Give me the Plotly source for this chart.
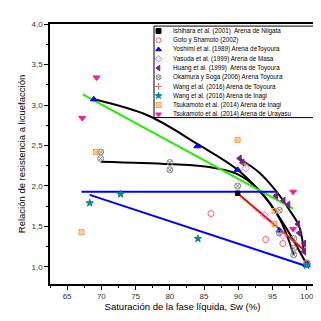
import plotly.graph_objects as go

# ---------------- data ----------------
names = [
    "Ishihara et al. (2001)  Arena de Niigata",
    "Goto y Shamoto (2002)",
    "Yoshimi et al. (1989) Arena deToyoura",
    "Yasuda et al. (1999) Arena de Masa",
    "Huang et al. (1999)  Arena de Toyoura",
    "Okamura y Soga (2006) Arena Toyoura",
    "Wang et al. (2016) Arena de Toyoura",
    "Wang et al. (2016) Arena de Inagi",
    "Tsukamoto et al. (2014) Arena de Inagi",
    "Tsukamoto et al. (2014) Arena de Urayasu",
]

ishihara_x = [89.9, 100.0]
ishihara_y = [1.91, 1.05]
goto_x = [86.0, 94.0, 96.5, 100.0]
goto_y = [1.66, 1.34, 1.29, 1.05]
yoshimi_x = [68.9, 84.0, 89.9, 96.0, 100.0]
yoshimi_y = [3.07, 2.49, 2.20, 1.45, 1.02]
yasuda_x = [91.1, 93.8, 96.5, 100.0]
yasuda_y = [2.22, 1.64, 1.39, 1.04]
huang_x = [90.2, 90.6, 95.5, 96.6, 97.3, 98.7, 98.9, 99.6, 99.6]
huang_y = [2.34, 2.29, 1.88, 1.82, 1.77, 1.53, 1.42, 1.29, 1.19]
okamura_x = [69.9, 69.9, 80.0, 80.0, 89.9, 96.0, 96.0, 98.1, 98.1, 98.1]
okamura_y = [2.42, 2.34, 2.29, 2.20, 2.00, 1.70, 1.42, 1.35, 1.23, 1.15]
wang_t_x = [91.0, 100.0]
wang_t_y = [2.27, 1.04]
wang_i_x = [68.3, 72.8, 84.1, 100.0]
wang_i_y = [1.79, 1.90, 1.35, 1.02]
tsuk_i_x = [67.1, 69.2, 89.9, 95.3, 95.3]
tsuk_i_y = [1.43, 2.42, 2.57, 1.69, 1.53]
tsuk_u_x = [67.2, 69.3, 98.0, 98.0]
tsuk_u_y = [2.84, 3.34, 1.93, 1.47]

# fitted trend lines (read points)
fitA_x = [68.9, 76.8, 84.0, 89.9, 94.0, 97.0, 100.0]
fitA_y = [3.07, 2.87, 2.52, 2.20, 1.85, 1.48, 1.03]
fitO_x = [69.9, 80.0, 86.0, 89.8, 93.0, 96.0, 98.1]
fitO_y = [2.30, 2.27, 2.23, 2.15, 1.95, 1.60, 1.15]
fitH_x = [90.3, 93.0, 95.5, 97.5, 98.9, 99.6]
fitH_y = [2.33, 2.17, 1.94, 1.70, 1.50, 1.17]
green_x = [67.3, 98.0]
green_y = [3.13, 1.72]
red_x = [89.9, 99.6]
red_y = [1.91, 1.21]
blue_h_x = [67.1, 95.5]
blue_h_y = [1.93, 1.93]
blue_s_x = [68.3, 100.0]
blue_s_y = [1.89, 1.01]

x_ticks = [65, 70, 75, 80, 85, 90, 95, 100]
y_ticks = [1.0, 1.5, 2.0, 2.5, 3.0, 3.5, 4.0]

x_title = "Saturación de la fase líquida, Sw (%)"
y_title = "Relación de resistencia a licuefacción"

# ---------------- styles ----------------
series = [
    (ishihara_x, ishihara_y, "square", "#000000", 4.5),
    (goto_x, goto_y, "circle-open", "#FF5A5A", 6),
    (yoshimi_x, yoshimi_y, "triangle-up", "#0000FF", 6),
    (yasuda_x, yasuda_y, "diamond-open", "#EE66EE", 6),
    (huang_x, huang_y, "triangle-left", "#7A1C8C", 6),
    (okamura_x, okamura_y, "circle-x-open", "#808080", 6),
    (wang_t_x, wang_t_y, "cross-thin-open", "#D07A7A", 5),
    (wang_i_x, wang_i_y, "star", "#008B8B", 5.5),
    (tsuk_i_x, tsuk_i_y, "square-x-open", "#FF9A40", 5),
    (tsuk_u_x, tsuk_u_y, "triangle-down", "#FF1C8E", 6),
]

fig = go.Figure()

lines = [
    (fitA_x, fitA_y, "#000000", "spline"),
    (fitO_x, fitO_y, "#000000", "spline"),
    (fitH_x, fitH_y, "#000000", "spline"),
    (green_x, green_y, "#22EE00", "linear"),
    (red_x, red_y, "#FF0000", "linear"),
    (blue_h_x, blue_h_y, "#0000FF", "linear"),
    (blue_s_x, blue_s_y, "#0000FF", "linear"),
]
for lx, ly, col, shp in lines:
    fig.add_trace(go.Scatter(x=lx, y=ly, mode="lines", showlegend=False,
                             line=dict(color=col, width=2, shape=shp, smoothing=1.0),
                             hoverinfo="skip"))

for (sx, sy, sym, col, sz), nm in zip(series, names):
    fig.add_trace(go.Scatter(x=sx, y=sy, mode="markers", name=nm, showlegend=False,
                             marker=dict(symbol=sym, color=col, size=sz,
                                         line=dict(color=col, width=1))))

# ---------------- manual legend (inset axes) ----------------
leg_idx = list(range(len(names)))
fig.add_trace(go.Scatter(
    x=[4.5] * len(names), y=leg_idx, mode="markers",
    showlegend=False, hoverinfo="skip",
    marker=dict(symbol=[s[2] for s in series], color=[s[3] for s in series],
                size=5, line=dict(color=[s[3] for s in series], width=1))))
for i, nm in enumerate(names):
    fig.add_annotation(x=17, y=i, xref="x2", yref="y2", text=nm, showarrow=False,
                       xanchor="left", yanchor="middle",
                       font=dict(family="Liberation Sans", size=6.3, color="#000000"))

fig.add_shape(type="rect", xref="paper", yref="paper", x0=0.3925, x1=0.996,
              y0=0.64, y1=0.992, line=dict(color="#000000", width=1), fillcolor="rgba(0,0,0,0)")

axis_common = dict(showline=True, linecolor="#000000", linewidth=1.5, mirror=True,
                   ticks="outside", ticklen=4, tickwidth=1, tickcolor="#000000",
                   showgrid=False, zeroline=False,
                   tickfont=dict(family="Liberation Sans", size=8, color="#333333"))

fig.update_layout(
    width=321, height=321,
    margin=dict(l=42, r=14, t=12, b=45),
    paper_bgcolor="white", plot_bgcolor="white",
    separators=",.",
    showlegend=False,
    font=dict(family="Liberation Sans", color="#000000"),
    xaxis=dict(range=[62.5, 101.2], tickvals=x_ticks, **axis_common,
               minor=dict(ticks="outside", ticklen=2, dtick=2.5, tick0=62.5, tickcolor="#000000"),
               title=dict(text=x_title, font=dict(size=9.5, color="#000000"), standoff=2)),
    yaxis=dict(range=[0.79, 4.0], tickvals=y_ticks, tickformat=".1f", **axis_common,
               minor=dict(ticks="outside", ticklen=2, dtick=0.25, tick0=0.75, tickcolor="#000000"),
               title=dict(text=y_title, font=dict(size=9.5, color="#000000"), standoff=4)),
    xaxis2=dict(domain=[0.3925, 0.996], range=[0, 160], visible=False, fixedrange=True),
    yaxis2=dict(domain=[0.64, 0.992], range=[9.36, -0.53], visible=False, fixedrange=True,
                anchor="x2"),
)
fig.data[-1].update(xaxis="x2", yaxis="y2")

fig.write_html("out.html")
